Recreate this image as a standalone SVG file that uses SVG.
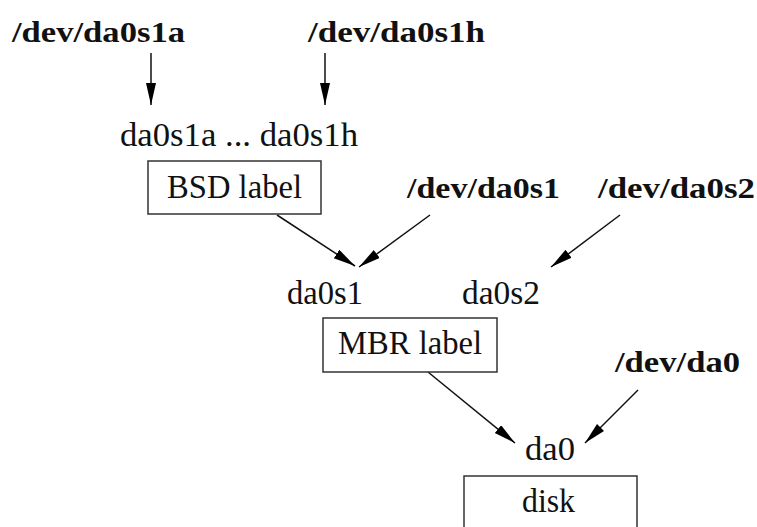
<svg xmlns="http://www.w3.org/2000/svg" width="757" height="527" viewBox="0 0 757 527" font-family="'Liberation Serif', 'Times New Roman', serif">
<style>
text{font-family:"Liberation Serif","Times New Roman",serif;font-size:33px;fill:#111}
.b{font-weight:bold;font-size:29px}
.box{fill:#fff;stroke:#333;stroke-width:1.5}
.c{stroke:#111;stroke-width:1.5;fill:none}
</style>
<defs>
<marker id="ah" markerUnits="userSpaceOnUse" markerWidth="24" markerHeight="12" refX="22" refY="5" orient="auto">
<path d="M0,0 L22,5 L0,10 Z" fill="#000"/>
</marker>
</defs>
<rect width="757" height="527" fill="#fff"/>
<g id="connectors">
<line class="c" x1="151" y1="53" x2="151" y2="105" marker-end="url(#ah)"/>
<line class="c" x1="325" y1="53" x2="325" y2="105" marker-end="url(#ah)"/>
<line class="c" x1="277" y1="215" x2="355" y2="266" marker-end="url(#ah)"/>
<line class="c" x1="430" y1="215" x2="359" y2="267" marker-end="url(#ah)"/>
<line class="c" x1="620" y1="215" x2="551" y2="267" marker-end="url(#ah)"/>
<line class="c" x1="428" y1="372" x2="515" y2="443" marker-end="url(#ah)"/>
<line class="c" x1="638" y1="390" x2="585" y2="443" marker-end="url(#ah)"/>
</g>
<g id="dev-da0s1a"><text class="b" x="12" y="42" textLength="173" lengthAdjust="spacingAndGlyphs">/dev/da0s1a</text></g>
<g id="dev-da0s1h"><text class="b" x="308" y="42" textLength="177" lengthAdjust="spacingAndGlyphs">/dev/da0s1h</text></g>
<g id="da0s1a-h"><text x="120" y="146" textLength="238" lengthAdjust="spacingAndGlyphs">da0s1a ... da0s1h</text></g>
<g id="bsd-label">
<rect class="box" x="148" y="161" width="173" height="53"/>
<text x="167" y="198" textLength="135" lengthAdjust="spacingAndGlyphs">BSD label</text>
</g>
<g id="dev-da0s1"><text class="b" x="407" y="198" textLength="153" lengthAdjust="spacingAndGlyphs">/dev/da0s1</text></g>
<g id="dev-da0s2"><text class="b" x="598" y="198" textLength="157" lengthAdjust="spacingAndGlyphs">/dev/da0s2</text></g>
<g id="da0s1"><text x="287" y="304" textLength="76" lengthAdjust="spacingAndGlyphs">da0s1</text></g>
<g id="da0s2"><text x="462" y="304" textLength="78" lengthAdjust="spacingAndGlyphs">da0s2</text></g>
<g id="mbr-label">
<rect class="box" x="323" y="318" width="174" height="54"/>
<text x="338" y="354" textLength="144" lengthAdjust="spacingAndGlyphs">MBR label</text>
</g>
<g id="dev-da0"><text class="b" x="615" y="372" textLength="125" lengthAdjust="spacingAndGlyphs">/dev/da0</text></g>
<g id="da0"><text x="525" y="460" textLength="50" lengthAdjust="spacingAndGlyphs">da0</text></g>
<g id="disk">
<rect class="box" x="464" y="476" width="173" height="80"/>
<text x="522" y="512" textLength="53" lengthAdjust="spacingAndGlyphs">disk</text>
</g>
</svg>
